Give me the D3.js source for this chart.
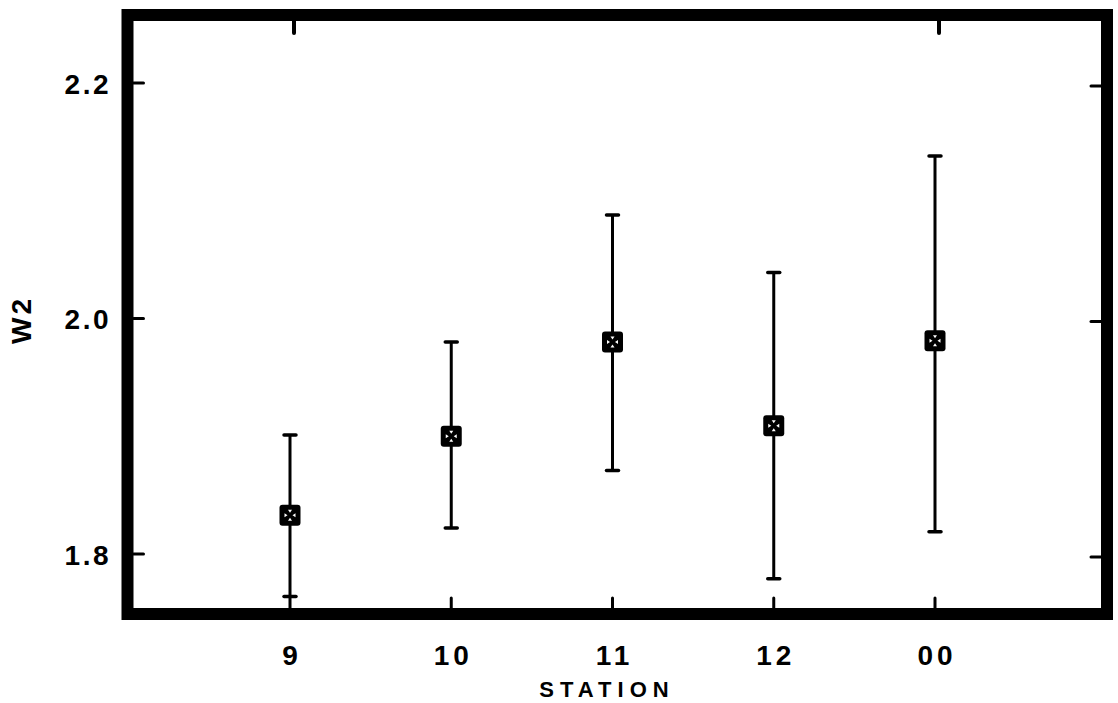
<!DOCTYPE html>
<html>
<head>
<meta charset="utf-8">
<script src="https://cdn.jsdelivr.net/npm/d3@7"></script>
<style>
  html, body { margin: 0; padding: 0; background: #fff; }
  svg { display: block; }
  text { font-family: "Liberation Sans", Arial, Helvetica, sans-serif; font-weight: bold; fill: #000; }
</style>
</head>
<body>
<svg id="chart" width="1118" height="703"></svg>
<script>
// ---- data ----
const stations = ["9", "10", "11", "12", "00"];
const means    = [1.833, 1.900, 1.980, 1.909, 1.981];
const upper    = [1.901, 1.980, 2.088, 2.039, 2.138];
const lower    = [1.764, 1.822, 1.871, 1.779, 1.819];
const yTicks   = [1.8, 2.0, 2.2];
const yTickLabels = ["1.8", "2.0", "2.2"];
const xLabel = "STATION";
const yLabel = "W2";

// ---- layout ----
const svg = d3.select("#chart");
const frame = { left: 127.5, right: 1107, top: 15, bottom: 614 };
const frameStroke = 12;

const y = d3.scaleLinear().domain([1.8, 2.2]).range([554, 83]);
const x = d3.scalePoint().domain(stations).range([290, 935]);

// frame
svg.append("rect")
  .attr("x", frame.left).attr("y", frame.top)
  .attr("width", frame.right - frame.left)
  .attr("height", frame.bottom - frame.top)
  .attr("fill", "none").attr("stroke", "#000")
  .attr("stroke-width", frameStroke);

const inL = frame.left + frameStroke / 2, inR = frame.right - frameStroke / 2;
const inT = frame.top + frameStroke / 2, inB = frame.bottom - frameStroke / 2;
const tickLen = 10;

// left & right ticks
yTicks.forEach(v => {
  svg.append("line").attr("x1", inL).attr("x2", inL + tickLen)
    .attr("y1", y(v)).attr("y2", y(v))
    .attr("stroke", "#000").attr("stroke-width", 3).attr("stroke-linecap", "round");
  svg.append("line").attr("x1", inR).attr("x2", inR - tickLen)
    .attr("y1", y(v) + 3).attr("y2", y(v) + 3)
    .attr("stroke", "#000").attr("stroke-width", 3).attr("stroke-linecap", "round");
});

// bottom ticks (all stations), top ticks (first and last)
stations.forEach((s, i) => {
  svg.append("line").attr("x1", x(s)).attr("x2", x(s))
    .attr("y1", inB).attr("y2", inB - tickLen)
    .attr("stroke", "#000").attr("stroke-width", 3).attr("stroke-linecap", "round");
  if (i === 0 || i === stations.length - 1) {
    svg.append("line").attr("x1", x(s) + 4).attr("x2", x(s) + 4)
      .attr("y1", inT).attr("y2", inT + 12)
      .attr("stroke", "#000").attr("stroke-width", 4).attr("stroke-linecap", "round");
  }
});

// y tick labels
svg.append("g").selectAll("text").data(yTicks).join("text")
  .attr("x", 111).attr("y", d => y(d) + 1)
  .attr("text-anchor", "end").attr("dominant-baseline", "central")
  .attr("font-size", 28).attr("letter-spacing", 2.5)
  .text((d, i) => yTickLabels[i]);

// x tick labels
svg.append("g").selectAll("text").data(stations).join("text")
  .attr("x", d => x(d) + 2).attr("y", 665)
  .attr("text-anchor", "middle")
  .attr("font-size", 28).attr("letter-spacing", 4)
  .text(d => d);

// axis titles
svg.append("text").attr("x", 607).attr("y", 697)
  .attr("text-anchor", "middle").attr("font-size", 22).attr("letter-spacing", 6)
  .text(xLabel);
svg.append("text")
  .attr("transform", "translate(31,320) rotate(-90)")
  .attr("text-anchor", "middle").attr("font-size", 28).attr("letter-spacing", 3)
  .text(yLabel);

// error bars
const eb = svg.append("g");
stations.forEach((s, i) => {
  const cx = x(s);
  eb.append("line").attr("x1", cx).attr("x2", cx)
    .attr("y1", y(upper[i])).attr("y2", y(lower[i]))
    .attr("stroke", "#000").attr("stroke-width", 3);
  [upper[i], lower[i]].forEach(v => {
    eb.append("line").attr("x1", cx - 6).attr("x2", cx + 6)
      .attr("y1", y(v)).attr("y2", y(v))
      .attr("stroke", "#000").attr("stroke-width", 3.5).attr("stroke-linecap", "round");
  });
});

// markers: boxed X (heavy)
const mk = svg.append("g");
const half = 10.5;
stations.forEach((s, i) => {
  const cx = x(s), cy = y(means[i]);
  const g = mk.append("g").attr("transform", `translate(${cx},${cy})`);
  g.append("rect").attr("x", -half).attr("y", -half)
    .attr("width", 2 * half).attr("height", 2 * half)
    .attr("rx", 3).attr("fill", "#000");
  const tri = [
    [[-5.5, -2], [-5.5, 2], [-2.5, 0]],
    [[5.5, -2], [5.5, 2], [2.5, 0]],
    [[-2, -5.5], [2, -5.5], [0, -2.5]],
    [[-2, 5.5], [2, 5.5], [0, 2.5]]
  ];
  tri.forEach(p => g.append("path").attr("d", d3.line()(p) + "Z").attr("fill", "#fff"));
});
</script>
</body>
</html>
